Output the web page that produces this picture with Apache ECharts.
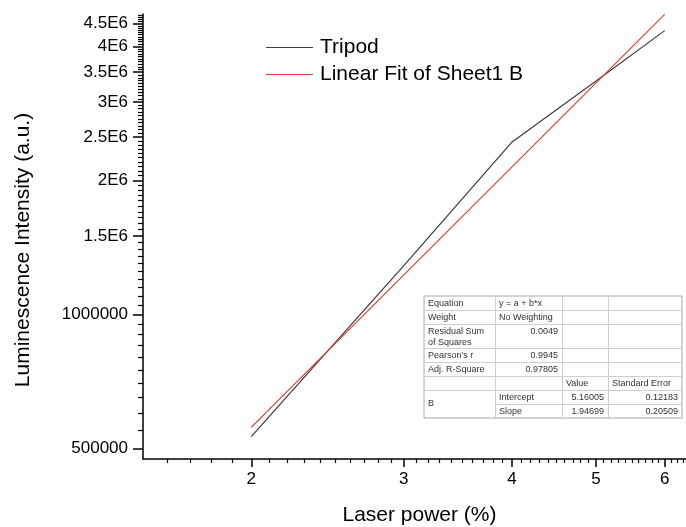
<!DOCTYPE html>
<html>
<head>
<meta charset="utf-8">
<script src="https://cdn.jsdelivr.net/npm/echarts@6/dist/echarts.min.js"></script>
<style>
html,body{margin:0;padding:0;background:#fff;}
#chart{width:686px;height:527px;}
</style>
</head>
<body>
<div id="chart"></div>
<script>
// ---- data ----
const laserPower = [2, 3, 4, 5, 6];
const tripodIntensity = [531000, 1287000, 2440000, 3345000, 4340000];
const fitPower = [2, 6];
const fitIntensity = [557000, 4720000];
const seriesNames = ['Tripod', 'Linear Fit of Sheet1 B'];

const xTickValues = [2, 3, 4, 5, 6];
const xTickLabels = ['2', '3', '4', '5', '6'];
const yTickValues = [500000, 1000000, 1500000, 2000000, 2500000, 3000000, 3500000, 4000000, 4500000];
const yTickLabels = ['500000', '1000000', '1.5E6', '2E6', '2.5E6', '3E6', '3.5E6', '4E6', '4.5E6'];

const fitTable = [
  ['Equation', 'y = a + b*x', '', ''],
  ['Weight', 'No Weighting', '', ''],
  ['Residual Sum\nof Squares', '0.0049', '', ''],
  ["Pearson's r", '0.9945', '', ''],
  ['Adj. R-Square', '0.97805', '', ''],
  ['', '', 'Value', 'Standard Error'],
  ['B', 'Intercept', '5.16005', '0.12183'],
  ['', 'Slope', '1.94699', '0.20509']
];

// ---- axis ranges / minor ticks ----
const xMin = 1.5, xMax = 6.35;
const yMin = 473000, yMax = 4730000;
const xMinor = [];
for (let k = 16; k <= 63; k++) { if (k % 10 !== 0) xMinor.push(k / 10); }
const yMinor = [];
for (let k = 11; k <= 94; k++) { if (k % 10 !== 0) yMinor.push(k * 50000); }

const FONT = "'Liberation Sans', Arial, Helvetica, sans-serif";

function lookupLabel(values, labels, v) {
  for (let i = 0; i < values.length; i++) {
    if (Math.abs(values[i] - v) <= 1e-6 * Math.abs(values[i])) return labels[i];
  }
  return '';
}

// ---- table graphic ----
const colX = [424, 495, 562, 608, 682];
const rowH = [14, 14, 24, 14, 14, 14, 14, 14];
const tblTop = 296;
const rowY = [tblTop];
for (let i = 0; i < rowH.length; i++) rowY.push(rowY[i] + rowH[i]);
const tblBottom = rowY[rowY.length - 1];
const isNum = s => /^-?[0-9.]+$/.test(s);

const tableEls = [];
tableEls.push({
  type: 'rect', shape: { x: colX[0], y: tblTop, width: colX[4] - colX[0], height: tblBottom - tblTop },
  style: { fill: '#fff', stroke: '#a8a8a8', lineWidth: 1 }, z: 10
});
for (let r = 1; r < rowH.length; r++) {
  const x1 = (r === 7) ? colX[1] : colX[0];
  tableEls.push({ type: 'line', shape: { x1: x1, y1: rowY[r] + 0.5, x2: colX[4], y2: rowY[r] + 0.5 },
    style: { stroke: '#cfcfcf', lineWidth: 1 }, z: 11 });
}
for (let c = 1; c < 4; c++) {
  tableEls.push({ type: 'line', shape: { x1: colX[c] + 0.5, y1: tblTop, x2: colX[c] + 0.5, y2: tblBottom },
    style: { stroke: '#cfcfcf', lineWidth: 1 }, z: 11 });
}
for (let r = 0; r < fitTable.length; r++) {
  for (let c = 0; c < 4; c++) {
    const txt = fitTable[r][c];
    if (!txt) continue;
    const right = isNum(txt);
    let y = rowY[r] + 2;
    if (r === 6 && c === 0) y = rowY[7] - 6;
    tableEls.push({
      type: 'text', z: 12,
      x: right ? colX[c + 1] - 4 : colX[c] + 4,
      y: y,
      style: { text: txt, fill: '#333', font: '9px ' + FONT, align: right ? 'right' : 'left',
        verticalAlign: 'top', lineHeight: 11 }
    });
  }
}

const chart = echarts.init(document.getElementById('chart'), null, { renderer: 'canvas' });
chart.setOption({
  animation: false,
  backgroundColor: '#fff',
  textStyle: { fontFamily: FONT },
  grid: { left: 143, right: 0, top: 14, bottom: 68, containLabel: false, outerBoundsMode: 'none' },
  legend: {
    orient: 'vertical', left: 266, top: 37, padding: 0,
    icon: 'rect', itemWidth: 47, itemHeight: 1.2, itemGap: 6,
    data: seriesNames,
    textStyle: { fontSize: 21, color: '#000', fontFamily: FONT, lineHeight: 21, padding: [0, 0, 0, 2] }
  },
  xAxis: [
    {
      type: 'log', logBase: 10, min: xMin, max: xMax, position: 'bottom',
      name: 'Laser power (%)', nameLocation: 'middle', nameGap: 46,
      nameTextStyle: { fontSize: 21, color: '#000', fontFamily: FONT, padding: [0, 0, 0, 10] },
      axisLine: { show: true, onZero: false, lineStyle: { color: '#000', width: 1.5 } },
      axisTick: { show: true, customValues: xTickValues, length: 8, lineStyle: { color: '#000', width: 1.5 } },
      axisLabel: { show: true, customValues: xTickValues, margin: 12, fontSize: 17, color: '#000', fontFamily: FONT,
        formatter: v => lookupLabel(xTickValues, xTickLabels, v) },
      splitLine: { show: false }, minorTick: { show: false }
    },
    {
      type: 'log', logBase: 10, min: xMin, max: xMax, position: 'bottom',
      axisLine: { show: false },
      axisTick: { show: true, customValues: xMinor, length: 4, lineStyle: { color: '#000', width: 1.2 } },
      axisLabel: { show: false }, splitLine: { show: false }
    }
  ],
  yAxis: [
    {
      type: 'log', logBase: 10, min: yMin, max: yMax, position: 'left',
      name: 'Luminescence Intensity (a.u.)', nameLocation: 'middle', nameGap: 109,
      nameTextStyle: { fontSize: 21, color: '#000', fontFamily: FONT, padding: [0, 27, 0, 0] },
      axisLine: { show: true, onZero: false, lineStyle: { color: '#000', width: 1.5 } },
      axisTick: { show: true, customValues: yTickValues, length: 10, lineStyle: { color: '#000', width: 1.5 } },
      axisLabel: { show: true, customValues: yTickValues, margin: 15, fontSize: 17, color: '#000', fontFamily: FONT,
        formatter: v => lookupLabel(yTickValues, yTickLabels, v) },
      splitLine: { show: false }, minorTick: { show: false }
    },
    {
      type: 'log', logBase: 10, min: yMin, max: yMax, position: 'left',
      axisLine: { show: false },
      axisTick: { show: true, customValues: yMinor, length: 5, lineStyle: { color: '#000', width: 1.2 } },
      axisLabel: { show: false }, splitLine: { show: false }
    }
  ],
  series: [
    {
      name: seriesNames[0], type: 'line', xAxisIndex: 0, yAxisIndex: 0,
      data: laserPower.map((x, i) => [x, tripodIntensity[i]]),
      symbol: 'none', lineStyle: { color: '#3c3c3c', width: 1.2 }, itemStyle: { color: '#3c3c3c' }, z: 3
    },
    {
      name: seriesNames[1], type: 'line', xAxisIndex: 0, yAxisIndex: 0,
      data: fitPower.map((x, i) => [x, fitIntensity[i]]),
      symbol: 'none', lineStyle: { color: '#e53935', width: 1.2 }, itemStyle: { color: '#e53935' }, z: 4
    }
  ],
  graphic: { elements: tableEls }
});
</script>
</body>
</html>
